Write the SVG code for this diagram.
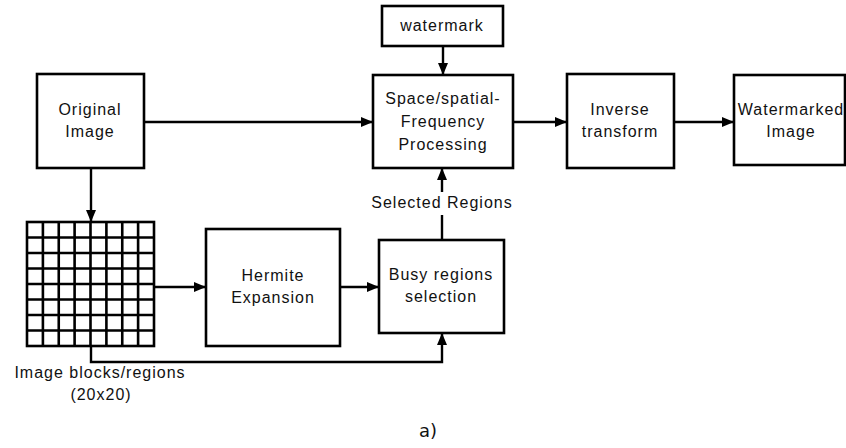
<svg xmlns="http://www.w3.org/2000/svg" width="846" height="448" viewBox="0 0 846 448">
<style>
.box{fill:#fff;stroke:#000;stroke-width:2.6}
.ln{fill:none;stroke:#000;stroke-width:2.4}
.t{font-family:"Liberation Sans",Arial,sans-serif;font-size:16px;letter-spacing:1px;text-anchor:middle;fill:#111}
.grid{fill:none;stroke:#000;stroke-width:2.6}
</style>
<defs>
<marker id="ah" markerUnits="userSpaceOnUse" markerWidth="12" markerHeight="10" refX="11" refY="5" orient="auto">
<path d="M0,0 L12,5 L0,10 z" fill="#000"/>
</marker>
</defs>
<rect width="846" height="448" fill="#fff"/>
<g id="connectors">
<line class="ln" x1="144" y1="122" x2="372" y2="122" marker-end="url(#ah)"/>
<line class="ln" x1="443" y1="46" x2="443" y2="74" marker-end="url(#ah)"/>
<line class="ln" x1="513" y1="122" x2="566" y2="122" marker-end="url(#ah)"/>
<line class="ln" x1="674" y1="122" x2="733" y2="122" marker-end="url(#ah)"/>
<line class="ln" x1="91" y1="168" x2="91" y2="221" marker-end="url(#ah)"/>
<line class="ln" x1="154" y1="287" x2="205" y2="287" marker-end="url(#ah)"/>
<line class="ln" x1="340" y1="287" x2="378" y2="287" marker-end="url(#ah)"/>
<polyline class="ln" points="91,346 91,362 442,362 442,334" marker-end="url(#ah)"/>
<line class="ln" x1="442" y1="240" x2="442" y2="215"/>
<line class="ln" x1="442" y1="192" x2="442" y2="169" marker-end="url(#ah)"/>
<text class="t" x="442" y="208">Selected Regions</text>
</g>
<g id="watermark">
<rect class="box" x="382" y="6" width="121" height="40"/>
<text class="t" x="442" y="31">watermark</text>
</g>
<g id="original">
<rect class="box" x="37" y="74" width="107" height="94"/>
<text class="t" x="90" y="115">Original</text>
<text class="t" x="90" y="137">Image</text>
</g>
<g id="processing">
<rect class="box" x="373" y="75" width="140" height="93"/>
<text class="t" x="443" y="104">Space/spatial-</text>
<text class="t" x="443" y="127">Frequency</text>
<text class="t" x="443" y="150">Processing</text>
</g>
<g id="inverse">
<rect class="box" x="567" y="74" width="107" height="94"/>
<text class="t" x="620" y="115">Inverse</text>
<text class="t" x="620" y="137">transform</text>
</g>
<g id="watermarked">
<rect class="box" x="734" y="75" width="111" height="90"/>
<text class="t" x="791" y="115">Watermarked</text>
<text class="t" x="791" y="137">Image</text>
</g>
<g id="blocks">
<rect class="grid" x="27" y="222" width="127" height="124"/>
<path class="grid" d="M42.9,222V346M58.75,222V346M74.6,222V346M90.5,222V346M106.4,222V346M122.25,222V346M138.1,222V346M27,237.5H154M27,253H154M27,268.5H154M27,284H154M27,299.5H154M27,315H154M27,330.5H154"/>
<text class="t" x="100" y="378">Image blocks/regions</text>
<text class="t" x="101" y="400">(20x20)</text>
</g>
<g id="hermite">
<rect class="box" x="206" y="229" width="134" height="117"/>
<text class="t" x="273" y="281">Hermite</text>
<text class="t" x="273" y="303">Expansion</text>
</g>
<g id="busy">
<rect class="box" x="379" y="240" width="125" height="93"/>
<text class="t" x="441" y="280">Busy regions</text>
<text class="t" x="441" y="302">selection</text>
</g>
<text x="428" y="437" style="font-family:'DejaVu Sans',sans-serif;font-size:18px;text-anchor:middle;fill:#111">a)</text>
</svg>
